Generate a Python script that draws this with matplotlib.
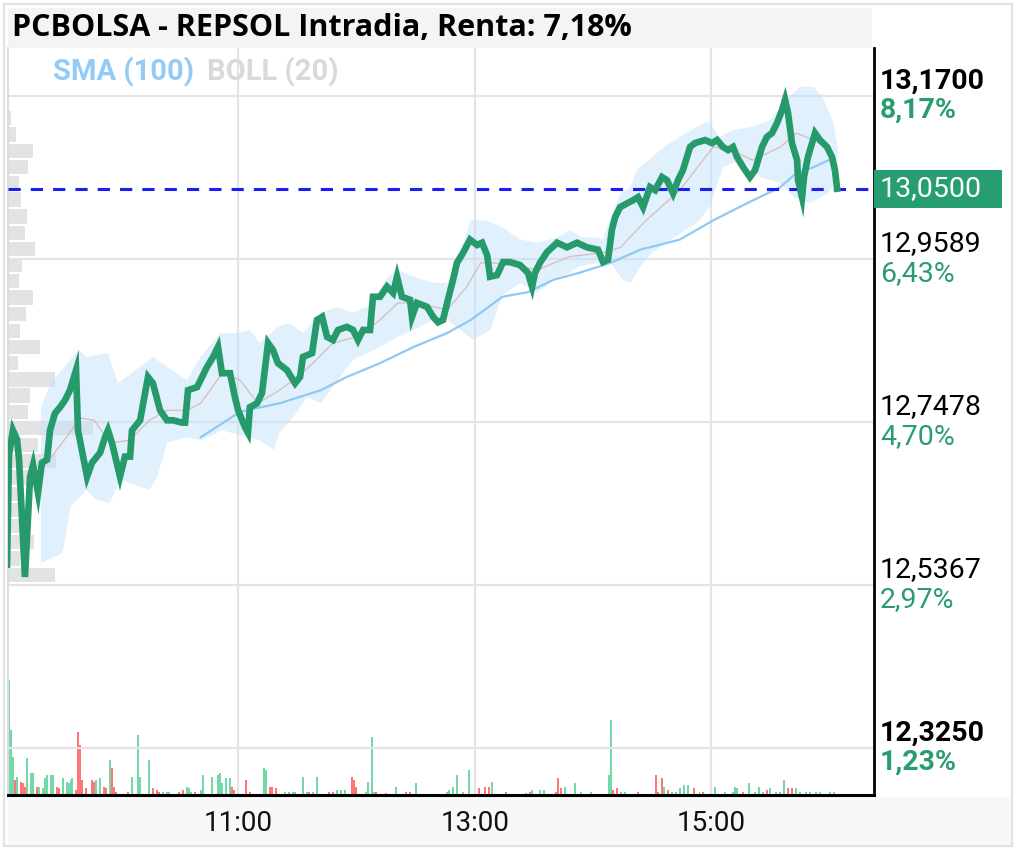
import matplotlib
matplotlib.use("Agg")
import matplotlib.pyplot as plt
from matplotlib.patches import Rectangle

plt.rcParams['font.family'] = ['Roboto', 'DejaVu Sans']

# ---------------- data ----------------
# time: minutes since 09:00
price_t = [2.8, 3.8, 5.8, 7.9, 8.9, 11.9, 14.5, 16.0, 18.5, 20.5, 23.1, 24.6, 27.1, 29.7, 32.2, 34.7,
           37.8, 38.8, 43.4, 45.9, 50.0, 52.5, 54.0, 56.0, 60.1, 62.6, 65.2, 66.2, 70.3, 74.3, 76.8,
           80.4, 83.9, 87.0, 91.6, 93.1, 94.6, 99.2, 104.2, 107.3, 109.8, 111.8, 115.9, 118.4, 120.0,
           123.5, 125.0, 126.0, 129.6, 132.1, 135.2, 137.7, 140.2, 144.8, 148.9, 151.4, 152.9, 157.5,
           160.0, 162.6, 165.1, 168.1, 170.7, 175.2, 178.3, 180.8, 183.4, 186.9, 188.4, 192.0, 195.5,
           198.6, 200.6, 203.1, 207.2, 208.2, 210.7, 215.8, 218.9, 221.4, 223.9, 226.0, 229.0, 231.0,
           234.1, 237.6, 241.2, 243.7, 246.3, 247.8, 251.3, 254.4, 257.9, 263.0, 267.0, 269.1, 270.6,
           273.1, 276.7, 281.8, 286.8, 291.9, 297.0, 302.5, 305.1, 307.6, 309.6, 311.2, 313.7, 317.3,
           320.3, 322.8, 325.4, 328.9, 331.5, 335.0, 337.5, 340.6, 343.1, 345.6, 349.2, 351.7, 356.8,
           360.4, 362.9, 365.9, 368.5, 371.0, 373.0, 376.1, 379.6, 382.2, 385.7, 388.2, 390.8, 393.3,
           395.9, 397.4, 398.9, 400.9, 403.5, 404.0, 406.0, 407.0, 409.0, 412.6, 415.1, 418.7, 421.2,
           422.7, 423.8]
price_v = [12.563, 12.705, 12.737, 12.725, 12.699, 12.547, 12.677, 12.692, 12.656, 12.695, 12.699,
           12.737, 12.759, 12.767, 12.776, 12.789, 12.815, 12.737, 12.677, 12.695, 12.708, 12.728,
           12.737, 12.721, 12.677, 12.703, 12.703, 12.737, 12.750, 12.806, 12.798, 12.763, 12.750,
           12.750, 12.747, 12.747, 12.789, 12.793, 12.819, 12.832, 12.845, 12.811, 12.811, 12.780,
           12.763, 12.741, 12.734, 12.767, 12.772, 12.785, 12.850, 12.841, 12.824, 12.815, 12.798,
           12.806, 12.832, 12.837, 12.880, 12.884, 12.858, 12.854, 12.867, 12.871, 12.867, 12.854,
           12.867, 12.867, 12.910, 12.910, 12.923, 12.915, 12.936, 12.910, 12.906, 12.884, 12.902,
           12.897, 12.884, 12.877, 12.880, 12.902, 12.932, 12.954, 12.967, 12.984, 12.977, 12.980,
           12.964, 12.936, 12.938, 12.955, 12.955, 12.951, 12.941, 12.923, 12.941, 12.954, 12.968,
           12.980, 12.974, 12.980, 12.974, 12.971, 12.955, 12.958, 12.997, 13.013, 13.026, 13.031,
           13.035, 13.039, 13.026, 13.052, 13.048, 13.065, 13.061, 13.044, 13.061, 13.074, 13.104,
           13.109, 13.113, 13.109, 13.113, 13.104, 13.100, 13.104, 13.091, 13.078, 13.065, 13.074,
           13.104, 13.117, 13.122, 13.135, 13.152, 13.165, 13.148, 13.109, 13.087, 13.061, 13.039,
           13.065, 13.091, 13.122, 13.113, 13.104, 13.091, 13.074, 13.050]

sma_t = [101, 121, 141, 162, 175, 192, 209, 226, 238, 254, 267, 280, 293, 309, 324, 344, 361, 378,
         395, 403, 412, 422]
sma_v = [12.728, 12.761, 12.772, 12.789, 12.806, 12.824, 12.845, 12.863, 12.880, 12.910, 12.916,
         12.932, 12.941, 12.954, 12.971, 12.984, 13.009, 13.031, 13.052, 13.070, 13.078, 13.090]

boll_up_t = [20, 25, 39, 43, 54, 59, 77, 84, 94, 101, 111, 119, 126, 131, 140, 146, 153, 162, 170,
             178, 187, 196, 201, 209, 219, 226, 231, 238, 246, 254, 263, 272, 282, 288, 295, 302,
             305, 309, 314, 319, 322, 336, 344, 356, 359, 364, 371, 381, 390, 398, 405, 412, 417,
             422, 424]
boll_up_v = [12.767, 12.798, 12.841, 12.832, 12.837, 12.798, 12.832, 12.819, 12.802, 12.832, 12.863,
             12.863, 12.867, 12.850, 12.871, 12.876, 12.863, 12.889, 12.897, 12.889, 12.899, 12.936,
             12.945, 12.936, 12.928, 12.928, 12.954, 13.009, 13.009, 13.000, 12.984, 12.980, 12.987,
             12.996, 12.987, 12.987, 12.984, 13.013, 13.044, 13.052, 13.074, 13.104, 13.117, 13.135,
             13.136, 13.117, 13.126, 13.130, 13.139, 13.165, 13.182, 13.182, 13.165, 13.135, 13.104]
boll_lo_t = [20, 31, 35, 43, 48, 55, 60, 75, 79, 84, 94, 101, 112, 125, 131, 138, 141, 148, 155,
             162, 168, 178, 192, 201, 209, 219, 226, 233, 239, 248, 254, 263, 272, 280, 288, 293,
             302, 309, 315, 319, 324, 330, 341, 353, 359, 366, 375, 385, 395, 402, 410, 419, 424]
boll_lo_v = [12.565, 12.578, 12.638, 12.660, 12.647, 12.643, 12.673, 12.660, 12.677, 12.721, 12.728,
             12.724, 12.737, 12.728, 12.724, 12.712, 12.734, 12.754, 12.780, 12.772, 12.793, 12.828,
             12.845, 12.858, 12.867, 12.880, 12.880, 12.867, 12.854, 12.867, 12.912, 12.928, 12.915,
             12.932, 12.941, 12.949, 12.954, 12.954, 12.932, 12.928, 12.949, 12.967, 12.987, 13.006,
             13.026, 13.078, 13.087, 13.065, 13.057, 13.039, 13.031, 13.044, 13.061]
boll_mid_t = [20, 30, 40, 47, 55, 65, 75, 84, 94, 101, 112, 121, 130, 141, 150, 158, 168, 180, 192,
              201, 209, 219, 226, 236, 243, 249, 258, 272, 288, 305, 314, 322, 327, 344, 361, 370,
              381, 395, 403, 412, 420]
boll_mid_v = [12.686, 12.718, 12.753, 12.750, 12.721, 12.724, 12.750, 12.763, 12.763, 12.772,
              12.811, 12.802, 12.772, 12.789, 12.806, 12.824, 12.850, 12.858, 12.880, 12.902,
              12.902, 12.897, 12.893, 12.923, 12.954, 12.954, 12.951, 12.945, 12.962, 12.967,
              12.974, 12.996, 13.009, 13.048, 13.104, 13.100, 13.087, 13.104, 13.122, 13.113, 13.100]

# volume per minute (thousand shares); "G" = up minute (green), "R" = down minute (red)
vol_t = [4, 5, 6, 7, 8, 10, 11, 12, 13, 15,
         16, 18, 19, 21, 22, 23, 25, 26, 28, 29,
         31, 33, 34, 35, 36, 38, 39, 40, 41, 43,
         46, 47, 48, 50, 52, 53, 55, 56, 57, 58,
         64, 66, 69, 70, 75, 77, 79, 80, 82, 84,
         85, 90, 92, 94, 95, 96, 98, 101, 102, 107,
         110, 111, 112, 114, 116, 117, 118, 120, 124, 126,
         133, 134, 136, 137, 139, 144, 146, 148, 149, 153,
         155, 156, 158, 160, 166, 168, 170, 172, 174, 178,
         179, 180, 185, 186, 188, 189, 190, 195, 200, 205,
         207, 210, 226, 227, 229, 231, 234, 237, 240, 242,
         245, 247, 249, 256, 266, 268, 269, 273, 275, 281,
         282, 284, 286, 291, 294, 299, 308, 309, 310, 312,
         314, 316, 323, 332, 333, 335, 336, 338, 340, 342,
         344, 346, 348, 351, 354, 356, 362, 367, 371, 372,
         373, 376, 379, 382, 384, 386, 388, 390, 393, 395,
         397, 399, 401, 403, 405, 408, 410, 413, 415, 420,
         422]
vol_k = [57.5, 32.5, 19, 7.5, 9, 6.5, 6, 4, 18.5, 11,
         11, 4, 4, 3.5, 8.5, 10, 10, 10, 4, 3.5,
         8.5, 6.5, 6, 7.5, 8.5, 2.5, 31.5, 25, 7.5, 3.5,
         7.5, 6.5, 7.5, 8.5, 4, 3.5, 17.5, 13.5, 4, 1.5,
         1.5, 9, 30, 9, 17.5, 3.5, 2.5, 1.5, 1.5, 1.5,
         1.5, 1.5, 2.5, 4, 3.5, 1.5, 1.5, 2.5, 10, 9,
         10, 11, 6, 8.5, 8.5, 4, 2.5, 1.5, 7.5, 1.5,
         13.5, 12.5, 4, 4, 3.5, 1.5, 1.5, 1.5, 1.5, 9,
         1.5, 1.5, 1.5, 9, 1.5, 1.5, 2.5, 2.5, 2.5, 9,
         7.5, 4, 1.5, 6.5, 29, 1.5, 1.5, 1, 4, 1.5,
         1.5, 6, 1.5, 2.5, 4, 10, 1.5, 12.5, 1.5, 3.5,
         4, 4, 6.5, 1.5, 1, 1.5, 2.5, 2.5, 2.5, 1.5,
         8.5, 3.5, 4, 6, 1.5, 1.5, 10, 37.5, 2.5, 3.5,
         1.5, 1.5, 1.5, 10, 1.5, 8.5, 4, 2.5, 1.5, 1.5,
         3.5, 5, 5, 3.5, 1.5, 1.5, 4, 1.5, 1.5, 4,
         3.5, 1.5, 6, 1.5, 4, 1.5, 2.5, 3.5, 1.5, 1.5,
         7.5, 3.5, 3.5, 3.5, 1.5, 1.5, 1.5, 1.5, 1.5, 1.5,
         1.5]
vol_dir = ["G", "G", "G", "R", "G", "R", "R", "R", "G", "G",
           "G", "R", "G", "G", "G", "G", "G", "G", "R", "R",
           "G", "G", "G", "G", "G", "R", "R", "R", "R", "R",
           "R", "R", "G", "G", "R", "R", "G", "R", "R", "R",
           "R", "G", "G", "G", "G", "R", "R", "R", "G", "G",
           "G", "R", "R", "G", "G", "G", "R", "G", "G", "G",
           "G", "G", "G", "G", "G", "R", "R", "R", "R", "R",
           "G", "G", "R", "R", "R", "G", "G", "G", "G", "G",
           "G", "R", "G", "G", "R", "R", "G", "G", "G", "R",
           "R", "R", "G", "G", "G", "G", "R", "R", "G", "R",
           "R", "G", "G", "G", "G", "G", "G", "G", "G", "R",
           "R", "R", "G", "R", "R", "R", "G", "G", "G", "R",
           "R", "R", "G", "G", "G", "G", "G", "G", "R", "R",
           "G", "G", "R", "R", "R", "R", "G", "R", "G", "G",
           "G", "G", "G", "R", "R", "R", "G", "G", "G", "G",
           "G", "R", "G", "G", "G", "G", "R", "G", "G", "G",
           "G", "R", "R", "G", "G", "G", "G", "G", "G", "G",
           "G"]

prof_price = [13.142, 13.120, 13.099, 13.078, 13.057, 13.036, 13.014, 12.993, 12.972, 12.951,
              12.930, 12.909, 12.888, 12.866, 12.845, 12.824, 12.803, 12.782, 12.761, 12.740,
              12.718, 12.697, 12.676, 12.655, 12.634, 12.613, 12.592, 12.571, 12.550]
prof_vol = [30, 80, 250, 200, 110, 130, 190, 170, 270, 140, 110, 250, 180, 120, 320, 100, 470,
            220, 200, 850, 300, 480, 200, 150, 120, 220, 260, 120, 470]

last_price = 13.05
ref_price = 12.1755
axis_levels = [13.17, 12.9589, 12.7478, 12.5367, 12.325]
xtick_min = [120, 240, 360]
xtick_lbl = ["11:00", "13:00", "15:00"]
title = "PCBOLSA - REPSOL Intradia, Renta: 7,18%"

# ---------------- layout ----------------
W, H = 1017, 851
fig = plt.figure(figsize=(W / 100, H / 100), dpi=100)
fig.patch.set_facecolor("white")

def rect_px(x0, y0, x1, y1, **kw):
    fig.patches.append(Rectangle((x0 / W, 1 - y1 / H), (x1 - x0) / W, (y1 - y0) / H,
                                 transform=fig.transFigure, **kw))

rect_px(8, 797, 1010, 845, facecolor="#f8f8f8", edgecolor="none", zorder=0)
rect_px(8, 8, 872, 48, facecolor="#f4f4f4", edgecolor="none", zorder=0)
rect_px(4, 4, 1012, 846, facecolor="none", edgecolor="#e2e2e2", linewidth=1.6, zorder=0)

pos = [8 / W, 1 - 795 / H, 866 / W, 747 / H]
XL = (3.3, 442.5)
YL = (12.2647, 13.2322)

# volume axes (back)
axv = fig.add_axes(pos, zorder=1)
axv.set_xlim(*XL)
axv.set_ylim(0, 373.5)
axv.axis("off")
cols = ["#5cd29a" if c == "G" else "#ff5e5e" for c in vol_dir]
axv.bar(vol_t, vol_k, width=1.0, color=cols, alpha=0.85, linewidth=0)

# volume profile axes
axp = fig.add_axes(pos, zorder=2)
axp.set_xlim(0, 8660)
axp.set_ylim(*YL)
axp.axis("off")
axp.barh(prof_price, prof_vol, height=0.0185, color="#dedede", alpha=0.85, linewidth=0)

# main price axes
ax = fig.add_axes(pos, zorder=3)
ax.patch.set_visible(False)
ax.set_xlim(*XL)
ax.set_ylim(*YL)

ax.set_yticks(axis_levels)
ax.set_yticklabels([])
ax.tick_params(axis="y", length=0)
ax.set_xticks(xtick_min)
ax.set_xticklabels(xtick_lbl, fontsize=20, color="#111111")
ax.tick_params(axis="x", length=0, pad=11)
ax.grid(True, color="#e4e4e4", linewidth=1.6, zorder=0)
ax.set_axisbelow(True)

ax.spines["top"].set_visible(False)
ax.spines["left"].set_color("#dddddd")
ax.spines["left"].set_linewidth(1.5)
ax.spines["right"].set_color("black")
ax.spines["right"].set_linewidth(2)
ax.spines["bottom"].set_color("black")
ax.spines["bottom"].set_linewidth(2.2)

# Bollinger band
band_x = boll_up_t + boll_lo_t[::-1]
band_y = boll_up_v + boll_lo_v[::-1]
ax.fill(band_x, band_y, color="#c3e2fa", alpha=0.5, linewidth=0, zorder=1)
ax.plot(boll_mid_t, boll_mid_v, color="#d4b0a8", linewidth=0.9, alpha=0.8, zorder=2)

# SMA
ax.plot(sma_t, sma_v, color="#8ecaf5", linewidth=1.6, zorder=3)

# last price dashed line
ax.axhline(last_price, color="#1c1cf5", linewidth=2.2, dashes=(4, 3.3), zorder=4)

# price line
ax.plot(price_t, price_v, color="#279a6c", linewidth=4.8, solid_joinstyle="miter", zorder=5)

# right side labels
ytr = ax.get_yaxis_transform()
xlab = (880 - 8) / 866
for i, lv in enumerate(axis_levels):
    bold = i in (0, len(axis_levels) - 1)
    pct = (lv / ref_price - 1) * 100
    ax.annotate(f"{lv:.4f}".replace(".", ","), xy=(xlab, lv), xycoords=ytr,
                xytext=(0, 10.8), textcoords="offset points", ha="left", va="center",
                fontsize=20.5, color="black", fontweight="bold" if bold else "normal",
                annotation_clip=False)
    ax.annotate(f"{pct:.2f}%".replace(".", ","), xy=(xlab, lv), xycoords=ytr,
                xytext=(0, -10.2), textcoords="offset points", ha="left", va="center",
                fontsize=20.5, color="#2a9d6f", fontweight="bold" if bold else "normal",
                annotation_clip=False)

# current price box
dy = 19 * (YL[1] - YL[0]) / 747
ax.add_patch(Rectangle((1.0, last_price - dy), 128 / 866, 2 * dy, transform=ytr,
                       facecolor="#279e72", edgecolor="none", clip_on=False, zorder=6))
ax.annotate(f"{last_price:.4f}".replace(".", ","), xy=(xlab, last_price), xycoords=ytr,
            ha="left", va="center", fontsize=20.5, color="white", annotation_clip=False,
            zorder=7)

# title + legend
fig.text(12 / W, 1 - 28 / H, title, fontsize=22, fontweight="bold", color="black",
         family=["Open Sans", "DejaVu Sans"], ha="left", va="center")
fig.text(53 / W, 1 - 72 / H, "SMA (100)", fontsize=21, fontweight="bold",
         color="#93cbf6", ha="left", va="center", zorder=10)
fig.text(207 / W, 1 - 72 / H, "BOLL (20)", fontsize=21, fontweight="bold",
         color="#d9d9d9", ha="left", va="center", zorder=10)

fig.savefig("out.png", dpi=100)
